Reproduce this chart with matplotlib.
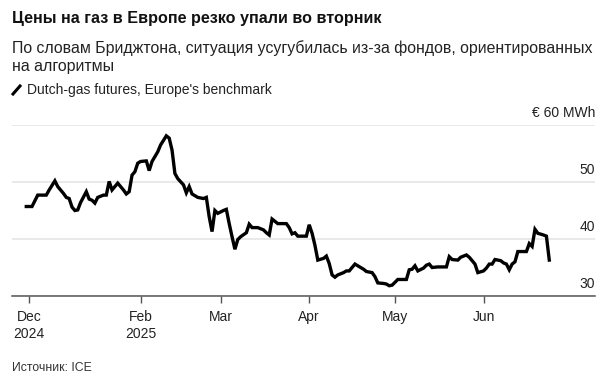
import numpy as np
import pandas as pd
import matplotlib
matplotlib.use("Agg")
import matplotlib.pyplot as plt
import matplotlib.transforms as mtransforms
from matplotlib.lines import Line2D

plt.rcParams['font.family'] = ['Liberation Sans', 'DejaVu Sans']

# данные
dates = [
    "2024-12-23", "2024-12-25", "2024-12-27", "2024-12-29", "2024-12-30", "2024-12-31",
    "2025-01-02", "2025-01-03", "2025-01-05", "2025-01-06", "2025-01-07", "2025-01-08",
    "2025-01-09", "2025-01-10", "2025-01-11", "2025-01-13", "2025-01-14", "2025-01-15",
    "2025-01-16", "2025-01-17", "2025-01-19", "2025-01-20", "2025-01-21", "2025-01-22",
    "2025-01-24", "2025-01-26", "2025-01-27", "2025-01-28", "2025-01-29", "2025-01-30",
    "2025-01-31", "2025-02-01", "2025-02-03", "2025-02-04", "2025-02-05", "2025-02-07",
    "2025-02-08", "2025-02-10", "2025-02-11", "2025-02-12", "2025-02-13", "2025-02-14",
    "2025-02-16", "2025-02-17", "2025-02-18", "2025-02-19", "2025-02-21", "2025-02-23",
    "2025-02-24", "2025-02-25", "2025-02-26", "2025-02-27", "2025-02-28", "2025-03-02",
    "2025-03-03", "2025-03-04", "2025-03-05", "2025-03-06", "2025-03-07", "2025-03-08",
    "2025-03-10", "2025-03-11", "2025-03-12", "2025-03-14", "2025-03-16", "2025-03-17",
    "2025-03-18", "2025-03-19", "2025-03-21", "2025-03-22", "2025-03-24", "2025-03-25",
    "2025-03-26", "2025-03-27", "2025-03-28", "2025-03-30", "2025-03-31", "2025-04-01",
    "2025-04-02", "2025-04-03", "2025-04-04", "2025-04-06", "2025-04-07", "2025-04-08",
    "2025-04-09", "2025-04-10", "2025-04-11", "2025-04-13", "2025-04-14", "2025-04-15",
    "2025-04-17", "2025-04-18", "2025-04-20", "2025-04-21", "2025-04-23", "2025-04-24",
    "2025-04-25", "2025-04-27", "2025-04-28", "2025-04-29", "2025-04-30", "2025-05-02",
    "2025-05-04", "2025-05-05", "2025-05-06", "2025-05-07", "2025-05-08", "2025-05-09",
    "2025-05-11", "2025-05-12", "2025-05-13", "2025-05-14", "2025-05-16", "2025-05-18",
    "2025-05-19", "2025-05-20", "2025-05-21", "2025-05-23", "2025-05-24", "2025-05-26",
    "2025-05-27", "2025-05-29", "2025-05-30", "2025-06-01", "2025-06-02", "2025-06-03",
    "2025-06-04", "2025-06-05", "2025-06-07", "2025-06-08", "2025-06-09", "2025-06-10",
    "2025-06-11", "2025-06-12", "2025-06-13", "2025-06-15", "2025-06-16", "2025-06-17",
    "2025-06-18", "2025-06-19", "2025-06-20", "2025-06-22", "2025-06-23", "2025-06-24",
]
prices = [
    45.7, 45.7, 47.7, 47.7, 47.7, 48.6,
    50.2, 49.2, 48.0, 47.3, 47.1, 45.6,
    45.0, 45.1, 46.4, 48.3, 47.0, 46.8,
    46.3, 47.3, 47.7, 47.7, 50.1, 48.6,
    49.8, 48.6, 47.9, 48.3, 51.2, 51.8,
    53.3, 53.6, 53.7, 52.0, 53.6, 55.3,
    56.5, 58.1, 57.7, 55.6, 51.5, 50.6,
    49.5, 48.1, 49.2, 47.9, 47.3, 47.1,
    47.3, 43.9, 41.3, 45.0, 44.5, 45.0,
    45.2, 42.7, 40.4, 38.2, 39.9, 40.4,
    41.1, 42.6, 42.0, 42.0, 41.6, 41.1,
    40.7, 43.5, 42.7, 42.7, 42.7, 42.0,
    40.9, 41.1, 40.5, 40.5, 40.5, 42.5,
    41.0, 38.9, 36.3, 36.6, 37.0, 35.7,
    33.7, 33.3, 33.7, 34.1, 34.4, 34.4,
    35.6, 35.3, 34.7, 34.3, 34.1, 33.4,
    32.3, 32.2, 32.1, 31.8, 31.9, 32.9,
    32.9, 32.9, 34.6, 34.7, 35.3, 34.4,
    34.9, 35.4, 35.6, 35.0, 35.1, 35.1,
    35.1, 36.9, 36.4, 36.3, 36.8, 37.2,
    36.8, 35.6, 34.1, 34.4, 34.9, 35.6,
    35.6, 36.4, 36.2, 35.8, 35.6, 34.6,
    35.6, 36.0, 37.8, 37.8, 37.8, 39.2,
    38.7, 41.7, 41.0, 40.7, 40.5, 36.3,
]
tick_dates = ["2024-12-24", "2025-02-01", "2025-03-01", "2025-04-01", "2025-05-01", "2025-06-01"]
tick_labels = ["Dec\n2024", "Feb\n2025", "Mar", "Apr", "May", "Jun"]
y_ticks = [30, 40, 50, 60]
y_labels = ["30", "40", "50", "€ 60 MWh"]

x = pd.to_datetime(dates)

fig = plt.figure(figsize=(6.1, 3.79), dpi=100)
ax = fig.add_axes([12 / 610, 1 - 296 / 379, 583 / 610, (296 - 125) / 379])

ax.plot(x, prices, color='black', lw=2.4, solid_joinstyle='miter', zorder=3)

ax.set_xlim(pd.Timestamp("2024-12-18"), pd.Timestamp("2025-07-10"))
ax.set_ylim(30, 60)

# сетка
ax.set_yticks(y_ticks)
ax.tick_params(axis='y', length=0, labelleft=False)
ax.grid(axis='y', color='#e3e3e3', lw=1.1)
ax.set_axisbelow(True)

for s in ['top', 'right', 'left']:
    ax.spines[s].set_visible(False)
ax.spines['bottom'].set_color('#555555')
ax.spines['bottom'].set_linewidth(1.1)

ax.set_xticks(pd.to_datetime(tick_dates))
ax.set_xticklabels(tick_labels, fontsize=10, color='#222222', linespacing=1.3)
ax.tick_params(axis='x', length=5, width=1, color='#555555', pad=5)

# подписи оси Y справа над линиями
trans = mtransforms.blended_transform_factory(ax.transAxes, ax.transData)
for v, lab in zip(y_ticks, y_labels):
    ax.text(1.0, v + 0.9, lab, transform=trans, ha='right', va='bottom',
            fontsize=10, color='#222222')

fig.text(12 / 610, 1 - 19 / 379, "Цены на газ в Европе резко упали во вторник",
         fontsize=11.6, fontweight='bold', va='center', color='#111111')
fig.text(12 / 610, 1 - 57 / 379,
         "По словам Бриджтона, ситуация усугубилась из-за фондов, ориентированных\nна алгоритмы",
         fontsize=11.4, va='center', color='#222222', linespacing=1.3)

# легенда
fig.add_artist(Line2D([13 / 610, 20 / 610], [1 - 94 / 379, 1 - 86 / 379],
                      color='black', lw=2.2, transform=fig.transFigure))
fig.text(27 / 610, 1 - 90 / 379, "Dutch-gas futures, Europe's benchmark",
         fontsize=10, va='center', color='#222222')

fig.text(12 / 610, 1 - 368 / 379, "Источник: ICE", fontsize=8.8, va='center', color='#333333')

fig.savefig("out.png", dpi=100)
